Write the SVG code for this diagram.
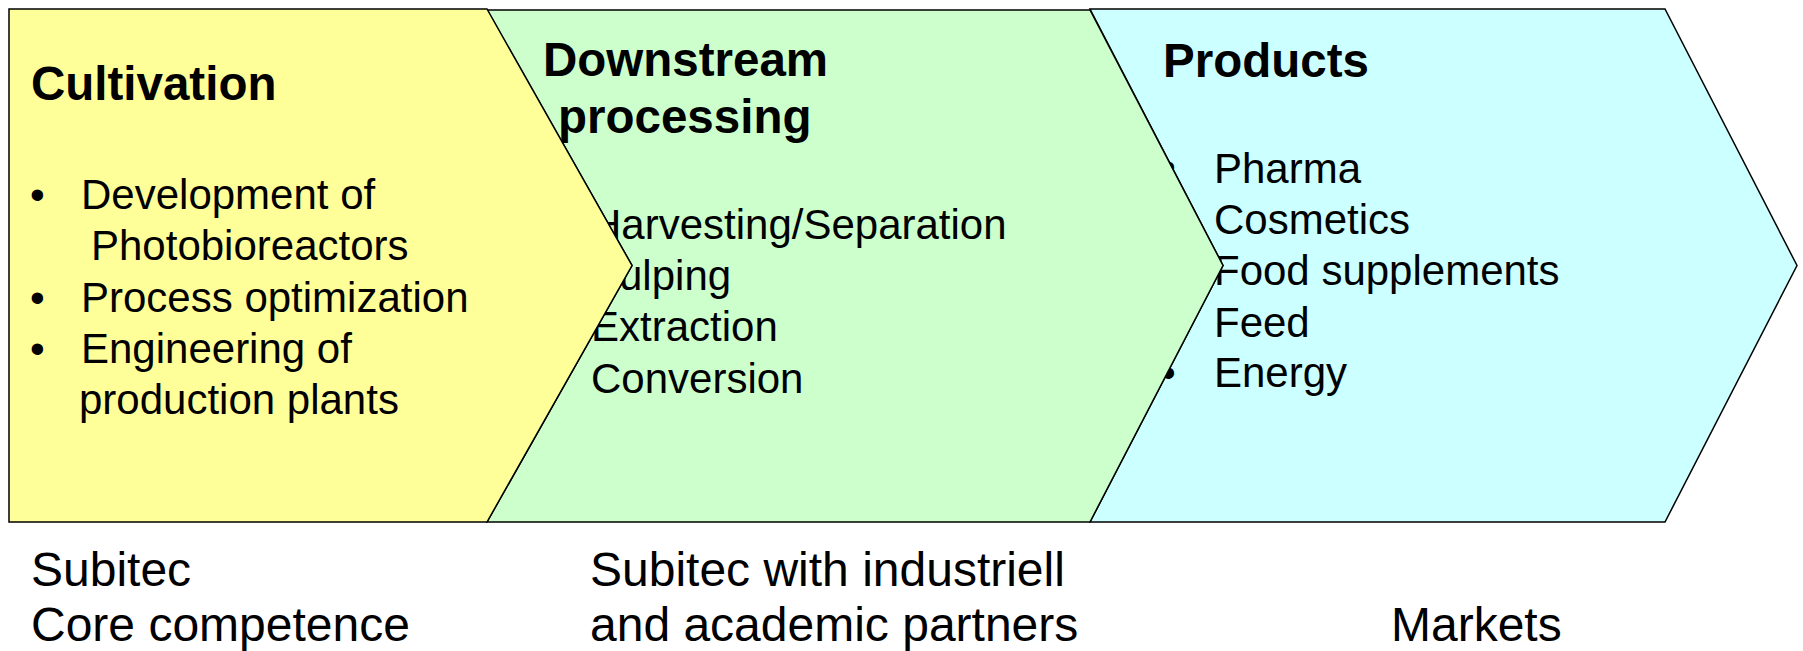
<svg xmlns="http://www.w3.org/2000/svg" width="1803" height="651" viewBox="0 0 1803 651">
<style>
.shape{stroke:#000;stroke-width:1.5;stroke-linejoin:miter}
text{font-family:"Liberation Sans",Arial,sans-serif;fill:#000}
.h{font-size:47.5px;font-weight:bold}
.t{font-size:42px}
.b{font-size:48px}
</style>
<rect width="1803" height="651" fill="#fff"/>
<g id="products">
<polygon class="shape" fill="#CCFFFF" points="1090,9 1665,9 1797,265.5 1665,522 1090,522 1223,265.5"/>
<text class="h" x="1163" y="77">Products</text>
<text class="t" x="1161" y="181">•</text>
<text class="t" x="1214" y="183">Pharma</text>
<text class="t" x="1161" y="234">•</text>
<text class="t" x="1214" y="234">Cosmetics</text>
<text class="t" x="1161" y="285">•</text>
<text class="t" x="1214" y="285">Food supplements</text>
<text class="t" x="1161" y="337">•</text>
<text class="t" x="1214" y="337">Feed</text>
<text class="t" x="1161" y="387">•</text>
<text class="t" x="1214" y="387">Energy</text>
</g>
<g id="downstream">
<polygon class="shape" fill="#CCFFCC" points="487,10 1090,10 1223,265.5 1090,522 487,522 632,265.5"/>
<text class="h" x="543" y="76">Downstream</text>
<text class="h" x="558" y="133">processing</text>
<text class="t" x="541" y="239">•</text>
<text class="t" x="591" y="239">Harvesting/Separation</text>
<text class="t" x="541" y="290">•</text>
<text class="t" x="591" y="290">Pulping</text>
<text class="t" x="541" y="341">•</text>
<text class="t" x="591" y="341">Extraction</text>
<text class="t" x="541" y="393">•</text>
<text class="t" x="591" y="393">Conversion</text>
</g>
<g id="cultivation">
<polygon class="shape" fill="#FFFF99" points="9,9 487,9 632,265.5 487,522 9,522"/>
<text class="h" x="31" y="100">Cultivation</text>
<text class="t" x="30" y="209">•</text>
<text class="t" x="81" y="209">Development of</text>
<text class="t" x="91" y="260">Photobioreactors</text>
<text class="t" x="30" y="312">•</text>
<text class="t" x="81" y="312">Process optimization</text>
<text class="t" x="30" y="363">•</text>
<text class="t" x="81" y="363">Engineering of</text>
<text class="t" x="79" y="414">production plants</text>
</g>
<g id="label-subitec">
<text class="b" x="31" y="586">Subitec</text>
<text class="b" x="31" y="641">Core competence</text>
</g>
<g id="label-partners">
<text class="b" x="590" y="586">Subitec with industriell</text>
<text class="b" x="590" y="641">and academic partners</text>
</g>
<g id="label-markets">
<text class="b" x="1391" y="641">Markets</text>
</g>
<g id="connectors"></g>
</svg>
